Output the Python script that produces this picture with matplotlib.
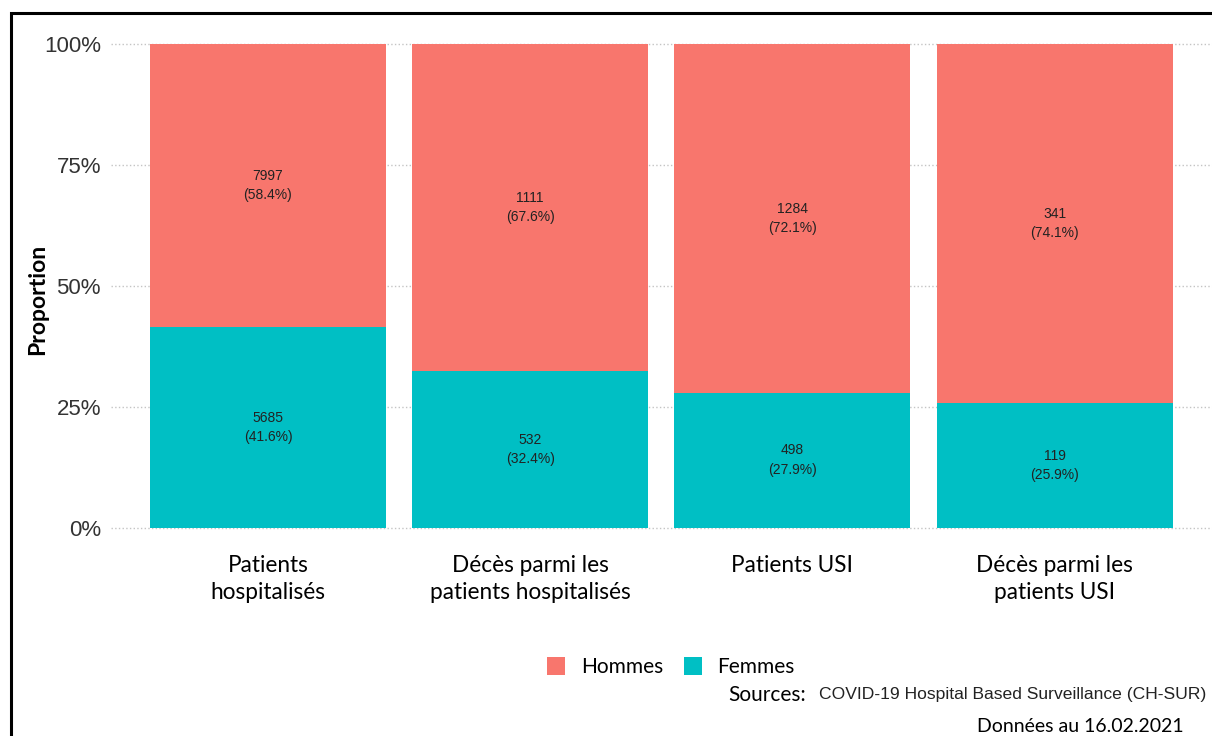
import numpy as np
import matplotlib.pyplot as plt
from matplotlib.patches import Rectangle, Patch

categories = ['Patients\nhospitalisés', 'Décès parmi les\npatients hospitalisés',
              'Patients USI', 'Décès parmi les\npatients USI']
hommes = np.array([7997, 1111, 1284, 341])
femmes = np.array([5685, 532, 498, 119])
groupes = ['Hommes', 'Femmes']
couleurs = ['#F8766D', '#00BFC4']
yticks = [0, 0.25, 0.5, 0.75, 1.0]
ytick_labels = ['0%', '25%', '50%', '75%', '100%']

total = hommes + femmes
p_h = hommes / total
p_f = femmes / total

W, H = 1212, 736
fig = plt.figure(figsize=(W / 100, H / 100), dpi=100)
ax = fig.add_axes([110.6 / W, 184 / H, 1 - 110.6 / W, 532 / H])

x = np.arange(1, len(categories) + 1)
ax.bar(x, p_f, width=0.9, color=couleurs[1], zorder=2)
ax.bar(x, p_h, width=0.9, bottom=p_f, color=couleurs[0], zorder=2)

lab_font = dict(family='Liberation Sans', fontsize=10, color='#222222', ha='center', va='center',
                linespacing=1.5)
for i in range(len(x)):
    ax.text(x[i], p_f[i] + p_h[i] / 2, '%d\n(%.1f%%)' % (hommes[i], 100 * p_h[i]), **lab_font, zorder=3)
    ax.text(x[i], p_f[i] / 2, '%d\n(%.1f%%)' % (femmes[i], 100 * p_f[i]), **lab_font, zorder=3)

ax.set_xlim(0.4, 4.6)
ax.set_ylim(-0.05, 1.05)
ax.set_xticks(x)
ax.set_xticklabels(categories, family='Lato', fontsize=16.3, color='black', linespacing=1.35)
ax.set_yticks(yticks)
ax.set_yticklabels(ytick_labels, family='Liberation Sans', fontsize=16, color='#333333')
ax.tick_params(axis='both', length=0)
ax.tick_params(axis='x', pad=2)
ax.tick_params(axis='y', pad=7)
for s in ax.spines.values():
    s.set_visible(False)
ax.yaxis.grid(True, linestyle=':', color='#c4c4c4', lw=1)
ax.set_axisbelow(True)

ax.set_ylabel('Proportion', family='Lato', fontweight='bold', fontsize=16.5)
ax.yaxis.set_label_coords(-0.057, 0.474)

handles = [Patch(facecolor=couleurs[0]), Patch(facecolor=couleurs[1])]
fig.legend(handles, groupes, loc='center', bbox_to_anchor=(671 / W, 1 - 667 / H), ncol=2,
           frameon=False, prop=dict(family='Lato', size=15), handlelength=0.85, handleheight=1.0,
           handletextpad=0.75, columnspacing=1.0)

fig.text(728 / W, 1 - 695 / H, 'Sources:', family='Lato', fontsize=15, va='center', ha='left')
fig.text(819 / W, 1 - 695 / H, 'COVID-19 Hospital Based Surveillance (CH-SUR)',
         family='Liberation Sans', fontsize=12.6, va='center', ha='left', color='#222222')
fig.text(977 / W, 1 - 726 / H, 'Données au 16.02.2021', family='Lato', fontsize=14, va='center', ha='left')

fig.add_artist(Rectangle((11 / W, -0.5), 2, 1.5 - 12.5 / H, transform=fig.transFigure,
                         fill=False, lw=2.2, ec='black', clip_on=False))

fig.savefig('out.png', dpi=100)
